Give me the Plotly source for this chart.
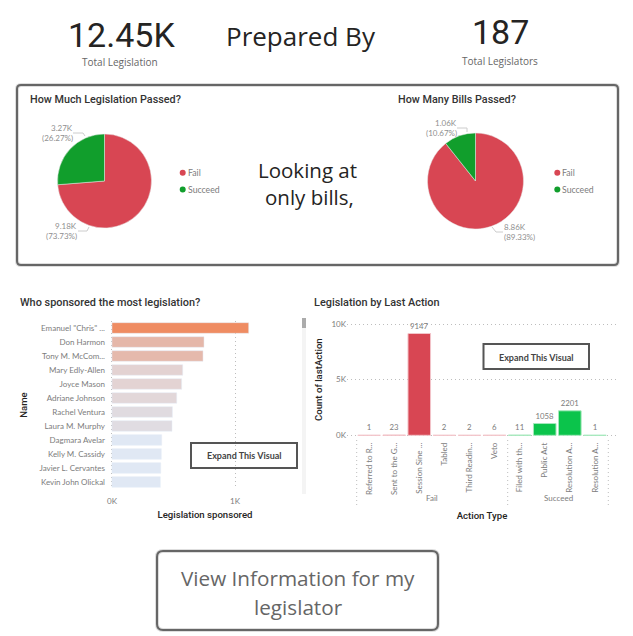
import plotly.graph_objects as go

W, H = 633, 636

# ---------- data ----------
pie_labels = ["Fail", "Succeed"]
legislation_passed = [9180, 3270]
bills_passed = [8860, 1058]

sponsors = ['Emanuel "Chris" ...', "Don Harmon", "Tony M. McCom...", "Mary Edly-Allen",
            "Joyce Mason", "Adriane Johnson", "Rachel Ventura", "Laura M. Murphy",
            "Dagmara Avelar", "Kelly M. Cassidy", "Javier L. Cervantes", "Kevin John Olickal"]
sponsored = [1111, 748, 740, 575, 566, 526, 491, 488, 404, 401, 396, 393]
sponsor_colors = ["#EF8C62", "#E5B7A9", "#E5B9AC", "#E3D2D2", "#E3D3D3", "#E2D7D9",
                  "#E0DBE0", "#E0DCE2", "#E0E8F4", "#E0E8F4", "#E0E8F4", "#E0E8F4"]

action_pos = [0, 1, 2, 3, 4, 5, 6, 7, 8, 9]
action_labels = ["Referred to R...", "Sent to the G...", "Session Sine ...", "Tabled", "Third Readin...",
                 "Veto", "Filed with th...", "Public Act", "Resolution A...", "Resolution A..."]
action_counts = [1, 23, 9147, 2, 2, 6, 11, 1058, 2201, 1]
action_groups = ["Fail"] * 6 + ["Succeed"] * 4

RED, GREEN, BRIGHT = "#D84653", "#119E2C", "#0BC44B"
GREY, DARK, BORDER = "#7C7C7C", "#333333", "#666666"
SANS, SMALL, DIN = "Open Sans", "Lato", "Roboto"
DOTS = "1px,3px"


def px(x):
    return x / W


def py(y):
    return 1 - y / H


def note(x, y, text, size, color, font=SANS, anchor="center", weight=None, angle=0):
    f = dict(size=size, color=color, family=font)
    if weight:
        f["weight"] = weight
    dx = {"left": -2, "right": 2, "center": 0}[anchor]
    return dict(x=px(x + dx), y=py(y), xref="paper", yref="paper", text=text, showarrow=False,
                xanchor=anchor, yanchor="middle", font=f, textangle=angle)


def rrect(x0, y0, x1, y1, r, color=BORDER, width=2):
    X0, X1, Y0, Y1, rx, ry = px(x0), px(x1), py(y0), py(y1), r / W, r / H
    path = (f"M {X0+rx} {Y0} L {X1-rx} {Y0} Q {X1} {Y0} {X1} {Y0-ry} L {X1} {Y1+ry} "
            f"Q {X1} {Y1} {X1-rx} {Y1} L {X0+rx} {Y1} Q {X0} {Y1} {X0} {Y1+ry} "
            f"L {X0} {Y0-ry} Q {X0} {Y0} {X0+rx} {Y0} Z")
    return dict(type="path", path=path, xref="paper", yref="paper",
                line=dict(color=color, width=width), fillcolor="rgba(0,0,0,0)")


def rect(x0, y0, x1, y1, fill="rgba(0,0,0,0)", line=None, width=0):
    return dict(type="rect", xref="paper", yref="paper", x0=px(x0), x1=px(x1), y0=py(y0), y1=py(y1),
                fillcolor=fill, line=dict(color=line or fill, width=width))


def dot(x, y, color):
    return dict(type="circle", xref="paper", yref="paper", x0=px(x - 3), x1=px(x + 3),
                y0=py(y + 3), y1=py(y - 3), fillcolor=color, line=dict(width=0))


def leader(points):
    path = "M " + " L ".join(f"{px(a)} {py(b)}" for a, b in points)
    return dict(type="path", path=path, xref="paper", yref="paper",
                line=dict(color="#CCCCCC", width=1))


def dotted(x, y0, y1):
    return dict(type="line", xref="paper", yref="paper", x0=px(x), x1=px(x), y0=py(y0), y1=py(y1),
                line=dict(color="#BDBDBD", width=1, dash=DOTS))


fig = go.Figure()

fig.add_trace(go.Pie(labels=pie_labels, values=legislation_passed, sort=False, direction="clockwise",
                     rotation=0, textinfo="none", showlegend=False,
                     marker=dict(colors=[RED, GREEN], line=dict(color="#E8E8E8", width=0.5)),
                     domain=dict(x=[px(57.5), px(151.5)], y=[py(228), py(134)])))
fig.add_trace(go.Pie(labels=pie_labels, values=bills_passed, sort=False, direction="clockwise",
                     rotation=0, textinfo="none", showlegend=False,
                     marker=dict(colors=[RED, GREEN], line=dict(color="#E8E8E8", width=0.5)),
                     domain=dict(x=[px(427.5), px(523.5)], y=[py(229), py(133)])))

fig.add_trace(go.Bar(y=sponsors, x=sponsored, orientation="h", marker=dict(color=sponsor_colors),
                     width=0.76, xaxis="x", yaxis="y", showlegend=False))

fig.add_trace(go.Bar(x=action_pos, y=action_counts, text=action_counts, textposition="outside",
                     textfont=dict(size=7.8, color=GREY, family=SMALL), cliponaxis=False,
                     marker=dict(color=[RED if g == "Fail" else BRIGHT for g in action_groups],
                                 line=dict(color=["#F3C5CA" if g == "Fail" else "#A5E8BC" for g in action_groups],
                                           width=1)),
                     width=0.9, xaxis="x2", yaxis="y2", showlegend=False))

shapes = [
    rrect(17, 85, 618, 265, 4, color="#DEDEDE", width=4),
    rrect(157, 551, 438, 630, 6, color="#DEDEDE", width=4),
    rrect(17, 85, 618, 265, 4),
    rrect(157, 551, 438, 630, 6),
    rect(191, 443, 297, 468, line="#555555", width=2),
    rect(483.5, 344, 589, 369, line="#555555", width=2),
    rect(302, 318, 306, 494, fill="#F4F4F4"),
    rect(302, 318, 306, 328, fill="#ABABAB"),
    dot(182.7, 172.7, RED), dot(182.7, 189.5, GREEN),
    dot(557.3, 172.7, RED), dot(557.3, 189.5, GREEN),
    leader([(73, 133), (83, 133), (85, 136)]),
    leader([(78, 231), (87, 231), (89, 227)]),
    leader([(457, 128), (467, 128), (467, 132)]),
    leader([(492, 227), (496, 232), (503, 232)]),
    dotted(356.7, 440, 506), dotted(507.7, 440, 506), dotted(608.3, 440, 506),
]

annotations = [
    note(121, 35, "12.45K", 34, "#252423", DIN),
    note(500, 32, "187", 34, "#252423", DIN),
    note(120, 62, "Total Legislation", 10, "#666666"),
    note(500, 61, "Total Legislators", 10, "#666666"),
    note(301, 36, "Prepared By", 26, "#252423"),
    note(307, 170, "Looking at", 20.5, "#252423"),
    note(309, 197, "only bills,", 20.5, "#252423"),
    note(30, 99, "How Much Legislation Passed?", 10.8, DARK, DIN, "left", 500),
    note(397.5, 99, "How Many Bills Passed?", 10.8, DARK, DIN, "left", 500),
    note(187.5, 172.7, "Fail", 8.7, GREY, SMALL, anchor="left"),
    note(187.5, 189.5, "Succeed", 8.7, GREY, SMALL, anchor="left"),
    note(562, 172.7, "Fail", 8.7, GREY, SMALL, anchor="left"),
    note(562, 189.5, "Succeed", 8.7, GREY, SMALL, anchor="left"),
    note(73, 128, "3.27K", 8, "#8F8F8F", SMALL, anchor="right"),
    note(73, 138, "(26.27%)", 8, "#8F8F8F", SMALL, anchor="right"),
    note(77, 226, "9.18K", 8, "#8F8F8F", SMALL, anchor="right"),
    note(77, 236, "(73.73%)", 8, "#8F8F8F", SMALL, anchor="right"),
    note(456.5, 123, "1.06K", 8, "#8F8F8F", SMALL, anchor="right"),
    note(456.5, 133, "(10.67%)", 8, "#8F8F8F", SMALL, anchor="right"),
    note(504, 227, "8.86K", 8, "#8F8F8F", SMALL, anchor="left"),
    note(504, 237, "(89.33%)", 8, "#8F8F8F", SMALL, anchor="left"),
    note(20, 303, "Who sponsored the most legislation?", 10.9, DARK, DIN, "left", 500),
    note(313.5, 303, "Legislation by Last Action", 10.9, DARK, DIN, "left", 500),
    note(244, 455.5, "Expand This Visual", 9, "#444444", SMALL, weight=700),
    note(536, 357, "Expand This Visual", 9, "#444444", SMALL, weight=700),
    note(432, 498, "Fail", 8, GREY, SMALL),
    note(558, 498, "Succeed", 8, GREY, SMALL),
    note(298, 578, "View Information for my", 20.7, "#666666"),
    note(298, 607, "legislator", 20.7, "#666666"),
]

tick = dict(size=8, color=GREY, family=SMALL)
axis_title = dict(size=9.6, color="#252423", family=DIN, weight=500)
grid = dict(showgrid=True, gridcolor="#BDBDBD", griddash=DOTS, gridwidth=1, zeroline=False,
            showline=False, ticks="")

fig.update_layout(
    width=W, height=H, margin=dict(l=0, r=0, t=0, b=0, autoexpand=False), autosize=False,
    paper_bgcolor="white", plot_bgcolor="white", showlegend=False, bargap=0.2,
    shapes=shapes, annotations=annotations,
    xaxis=dict(domain=[px(110), px(300)], range=[-16, 1528], tickvals=[0, 1000], ticktext=["0K", "1K"],
               tickfont=tick, anchor="y", ticklabelstandoff=6,
               title=dict(text="Legislation sponsored", font=axis_title, standoff=6), **grid),
    yaxis=dict(domain=[py(489), py(321)], range=[11.5, -0.5], type="category", categoryorder="array",
               categoryarray=sponsors, tickfont=tick, anchor="x", showgrid=False, zeroline=False,
               showline=False, ticks="", ticklabelstandoff=4,
               title=dict(text="Name", font=axis_title, standoff=10)),
    xaxis2=dict(domain=[px(347), px(617)], range=[-0.88, 9.88], tickvals=action_pos, ticktext=action_labels,
                tickangle=-90, tickfont=tick, anchor="y2", showgrid=False, zeroline=False, showline=False,
                ticks="", ticklabelstandoff=2,
                title=dict(text="Action Type", font=axis_title, standoff=18)),
    yaxis2=dict(domain=[py(438.1), py(321.2)], range=[-252, 10252], tickvals=[0, 5000, 10000],
                ticktext=["0K", "5K", "10K"], tickfont=tick, anchor="x2",
                title=dict(text="Count of lastAction", font=axis_title, standoff=7), **grid),
)

fig.write_html("out.html", config=dict(displayModeBar=False),
               post_script="document.body.style.margin='0';document.body.style.overflow='hidden';")
